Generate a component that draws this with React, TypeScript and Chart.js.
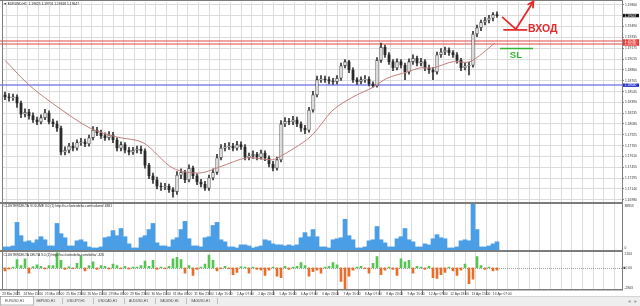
import { useEffect, useRef } from 'react';
import { Chart, registerables } from 'chart.js';

Chart.register(...registerables);

const FONT = '"Liberation Sans", Arial, sans-serif';
const TINY = 3.3;
const GRID = '#dcdcdc';
const FRAME = '#7d7d7d';

// ---------------- data ----------------
const FIRST_OPEN = 1.185;
const CLOSE = [
  1.1847, 1.1846, 1.1847, 1.1838, 1.1822, 1.1825, 1.182, 1.1814, 1.1811, 1.1817,
  1.1824, 1.1811, 1.1808, 1.1802, 1.1767, 1.177, 1.1776, 1.1773, 1.1781, 1.1782,
  1.1779, 1.1788, 1.1799, 1.1795, 1.1791, 1.1788, 1.1792, 1.1785, 1.1773, 1.1778,
  1.177, 1.1767, 1.177, 1.1772, 1.1769, 1.1748, 1.1733, 1.1727, 1.1718, 1.1717,
  1.1718, 1.1713, 1.171, 1.1734, 1.1738, 1.1727, 1.1744, 1.1733, 1.1724, 1.1721,
  1.1715, 1.173, 1.1738, 1.1759, 1.1773, 1.1775, 1.1776, 1.1773, 1.1778, 1.1775,
  1.176, 1.1762, 1.1764, 1.176, 1.1766, 1.1759, 1.175, 1.1744, 1.1756, 1.1808,
  1.1812, 1.1811, 1.1814, 1.1808, 1.1802, 1.1799, 1.1828, 1.185, 1.1872, 1.1873,
  1.1872, 1.187, 1.1869, 1.1874, 1.1892, 1.1898, 1.1886, 1.1872, 1.1869, 1.1872,
  1.1873, 1.1866, 1.1863, 1.19, 1.1919, 1.1908, 1.1898, 1.1889, 1.1898, 1.1893,
  1.1883, 1.1898, 1.1903, 1.1896, 1.1898, 1.1889, 1.1886, 1.1883, 1.1908, 1.1912,
  1.1915, 1.1911, 1.1908, 1.19, 1.1889, 1.1892, 1.1893, 1.1938, 1.1947, 1.1955,
  1.1958, 1.1961, 1.1966, 1.19647,
];
const HIGH = [
  1.1854, 1.1852, 1.1851, 1.185, 1.1841, 1.183, 1.1829, 1.1824, 1.1818, 1.1821,
  1.1829, 1.1827, 1.1815, 1.1812, 1.1805, 1.1775, 1.178, 1.1781, 1.1785, 1.1787,
  1.1786, 1.1792, 1.1804, 1.1803, 1.1799, 1.1795, 1.1797, 1.1796, 1.1788, 1.1782,
  1.1781, 1.1774, 1.1774, 1.1776, 1.1776, 1.1772, 1.1751, 1.1737, 1.1731, 1.1723,
  1.1722, 1.1721, 1.1716, 1.1739, 1.1743, 1.1741, 1.1749, 1.1747, 1.1736, 1.1728,
  1.1725, 1.1734, 1.1743, 1.1764, 1.1778, 1.178, 1.1781, 1.178, 1.1783, 1.1782,
  1.1778, 1.1766, 1.1769, 1.1767, 1.177, 1.1769, 1.1762, 1.1754, 1.176, 1.1813,
  1.1817, 1.1816, 1.1819, 1.1818, 1.1811, 1.1806, 1.1832, 1.1855, 1.1877, 1.1878,
  1.1877, 1.1876, 1.1874, 1.1878, 1.1896, 1.1901, 1.19, 1.1889, 1.1875, 1.1876,
  1.1878, 1.1876, 1.1869, 1.1904, 1.1925, 1.1922, 1.1911, 1.1901, 1.1902, 1.1901,
  1.1896, 1.1902, 1.1908, 1.1906, 1.1903, 1.1901, 1.1893, 1.189, 1.1912, 1.1917,
  1.1919, 1.1918, 1.1914, 1.1911, 1.1903, 1.1896, 1.1897, 1.1942, 1.1951, 1.1958,
  1.1962, 1.1965, 1.1969, 1.197,
];
const LOW = [
  1.1843, 1.1841, 1.1842, 1.1832, 1.1817, 1.1818, 1.1815, 1.181, 1.1807, 1.1808,
  1.1814, 1.1808, 1.1804, 1.1797, 1.1763, 1.1763, 1.1766, 1.1769, 1.177, 1.1777,
  1.1775, 1.1776, 1.1785, 1.1791, 1.1787, 1.1784, 1.1785, 1.1781, 1.1769, 1.1769,
  1.1766, 1.1763, 1.1764, 1.1766, 1.1765, 1.1744, 1.1729, 1.1722, 1.1714, 1.1712,
  1.1713, 1.1709, 1.1702, 1.1706, 1.1729, 1.1723, 1.1724, 1.1729, 1.172, 1.1717,
  1.1712, 1.1712, 1.1727, 1.1735, 1.1756, 1.1769, 1.1771, 1.1769, 1.177, 1.1771,
  1.1756, 1.1756, 1.1758, 1.1756, 1.1757, 1.1755, 1.1746, 1.174, 1.1741, 1.1753,
  1.1804, 1.1807, 1.1807, 1.1804, 1.1797, 1.1794, 1.1796, 1.1825, 1.1847, 1.1868,
  1.1868, 1.1866, 1.1865, 1.1866, 1.1871, 1.1889, 1.1882, 1.1868, 1.1865, 1.1866,
  1.1868, 1.1863, 1.1861, 1.1861, 1.1897, 1.1904, 1.1894, 1.1885, 1.1886, 1.1889,
  1.1872, 1.188, 1.1894, 1.1892, 1.1892, 1.1885, 1.1881, 1.1872, 1.188, 1.1904,
  1.1908, 1.1907, 1.1904, 1.1896, 1.1885, 1.1886, 1.1879, 1.189, 1.1934, 1.1943,
  1.1951, 1.1954, 1.1957, 1.1962,
];
const MA_INDEX = [0, 6.25, 13.75, 21.25, 28, 34.5, 42, 48.75, 53.75, 60.5, 66.5, 68.25, 76.25, 82, 87, 92, 95.5, 100.5, 103.75, 107, 112, 116.25, 122.5];
const MA_VALUE = [1.19, 1.1863, 1.183, 1.1802, 1.1789, 1.1781, 1.1744, 1.1737, 1.1746, 1.1759, 1.1756, 1.1759, 1.1789, 1.1828, 1.1847, 1.1861, 1.1874, 1.1883, 1.1889, 1.1889, 1.1898, 1.1898, 1.1925];
const VOLUME = [
  2590, 2590, 3450, 23300, 12080, 6900, 7770, 6040, 8630, 11220,
  8630, 3450, 3450, 22440, 13810, 10360, 3450, 3450, 7770, 8630,
  6900, 2590, 1730, 1730, 2590, 10360, 11220, 16400, 12080, 18120,
  11220, 5180, 1730, 1730, 10360, 12080, 17260, 22440, 6040, 3450,
  3450, 2590, 8630, 10360, 17260, 24160, 9490, 3450, 3450, 2590,
  10360, 11220, 20710, 23300, 8630, 6900, 2590, 2590, 1730, 4320,
  4320, 3450, 1730, 2590, 3450, 8630, 7770, 5180, 4320, 4320,
  3450, 4320, 3450, 4320, 10360, 14670, 11220, 17260, 11220, 2590,
  2590, 1730, 8630, 9490, 10360, 25890, 12080, 8630, 1730, 1730,
  2590, 7770, 8630, 19850, 8630, 6040, 2590, 2590, 9490, 11220,
  18120, 8630, 6900, 2590, 2590, 5180, 4320, 9490, 12950, 10360,
  9490, 1730, 1730, 2590, 7770, 8630, 7770, 38853, 17260, 2590,
  2590, 3450, 5180, 6900,
];
const DELTA = [
  -400, -150, 100, 1100, 300, 1200, -700, 150, 400, 200,
  -150, 300, 300, 2000, 1000, -200, 150, -100, 600, 1600,
  -400, 300, 800, -200, 300, 200, -150, 500, 300, -100,
  200, -150, 100, 100, 300, 900, 200, 1000, -200, 100,
  -100, 200, 1200, 1400, 1100, -700, 300, -1000, -200, 100,
  500, 1700, 1000, -400, -100, 200, -100, -900, -600, 150,
  100, -700, 100, -200, -300, -1000, -300, 100, -1100, -1300,
  200, -200, 100, 200, 700, 300, -1100, -500, -300, -700,
  100, 200, 700, 400, -1800, -2803, -1100, -300, 100, 200,
  -100, -700, 600, 1500, -900, -300, 100, -200, -1000, 1200,
  800, 1000, -700, 200, 100, -200, 200, -1300, -1400, -900,
  -600, 100, -400, -1000, -300, 500, -2100, -1500, 1500, 300,
  -200, 100, -400, -300,
];
const PRICE_TICKS = [
  1.198, 1.19645, 1.1949, 1.19335, 1.19175, 1.19015, 1.1886, 1.18705, 1.18545, 1.1839,
  1.18235, 1.1808, 1.17925, 1.17765, 1.1761, 1.17455, 1.17295, 1.1714, 1.1698,
];
const TIME_LABELS = [
  '23 Mar 2021', '24 Mar 15:00', '25 Mar 07:00', '25 Mar 23:00', '26 Mar 15:00', '29 Mar 07:00',
  '29 Mar 23:00', '30 Mar 15:00', '31 Mar 07:00', '31 Mar 23:00', '1 Apr 15:00', '2 Apr 07:00',
  '2 Apr 23:00', '5 Apr 15:00', '6 Apr 07:00', '6 Apr 23:00', '7 Apr 15:00', '8 Apr 07:00',
  '8 Apr 23:00', '9 Apr 15:00', '12 Apr 07:00', '12 Apr 23:00', '13 Apr 15:00', '14 Apr 07:00',
];
const RED_LEVELS = [1.1928, 1.19235];
const BLUE_LEVEL = 1.1864;
const LAST_PRICE = 1.19647;
const VOL_MAX = 38853;
const DELTA_MAX = 2104;
const DELTA_MIN = -2803;
const HEADER = '\u25BC EURUSD,H1  1.19625 1.19701 1.19618 1.19647';
const VOL_TITLE = 'CLUSTERDELTA VOLUME 3.0 (1) http://ru.clusterdelta.com/volume/ 4381';
const DELTA_TITLE = 'CLUSTERDELTA DELTA 3.0 (1) http://ru.clusterdelta.com/delta/ -326';
const TABS = ['EURUSD,H1', 'GBPUSD,H1', 'USDJPY,H1', 'USDCAD,H1', 'AUDUSD,H1', 'XAUUSD,H1', 'XAGUSD,H1'];
// hand-drawn annotation (bar index, price)
const ENTRY_PATH = [[124.4, 1.1962], [127.7, 1.1945], [132.1, 1.1985]];
const ENTRY_BAR = [124.75, 130.4, 1.1944];
const ENTRY_LABEL = [130.75, 1.19415];
const ENTRY_TEXT = '\u0412\u0425\u041E\u0414';
const SL_LINE = [123.75, 132, 1.1917];
const SL_LABEL = [126.2, 1.1904];
const SL_TEXT = 'SL';

// ---------------- layout helpers ----------------
const X_MIN = -0.5;
const X_MAX = 154.25;
const FIRST_TICK = -0.96;
const LABEL_STEP = 16 / 3;
const P_MIN = 1.16951;
const P_MAX = 1.19843;

function gridTicks() {
  const t: { value: number }[] = [];
  for (let v = FIRST_TICK; v <= X_MAX; v += LABEL_STEP / 2) t.push({ value: v });
  return t;
}

function xScale(showLabels: boolean): any {
  return {
    type: 'linear',
    min: X_MIN,
    max: X_MAX,
    offset: false,
    afterBuildTicks: (s: any) => { s.ticks = gridTicks(); },
    ticks: showLabels
      ? {
          autoSkip: false,
          maxRotation: 0,
          align: 'start',
          padding: -3,
          labelOffset: 1,
          color: '#333',
          font: { family: FONT, size: TINY },
          callback: (_v: any, i: number) => (i % 2 === 0 && TIME_LABELS[i / 2] ? TIME_LABELS[i / 2] : ''),
        }
      : { display: false },
    grid: showLabels
      ? {
          color: GRID,
          drawTicks: true,
          tickLength: 6,
          tickColor: (c: any) => (c.index % 2 === 0 && c.index / 2 < TIME_LABELS.length ? '#777' : 'rgba(0,0,0,0)'),
        }
      : { color: GRID, drawTicks: false },
    border: { display: false },
    afterFit: (s: any) => {
      s.height = showLabels ? 17 : 0;
      s.paddingLeft = 0;
      s.paddingRight = 0;
    },
  };
}

function hiddenY(min: number, max: number): any {
  return {
    position: 'right',
    min,
    max,
    ticks: { display: false },
    grid: { display: false },
    border: { display: false },
    afterFit: (s: any) => { s.width = 18; s.paddingTop = 0; s.paddingBottom = 0; },
  };
}

function frame(ctx: CanvasRenderingContext2D, h: number) {
  ctx.fillStyle = FRAME;
  ctx.fillRect(2, 0, 1, h);
  ctx.fillRect(622, 0, 1, h);
}

function tinyText(ctx: CanvasRenderingContext2D, text: string, x: number, y: number, color = '#333') {
  ctx.font = `${TINY}px ${FONT}`;
  ctx.fillStyle = color;
  ctx.textAlign = 'left';
  ctx.textBaseline = 'middle';
  ctx.fillText(text, x, y);
}

function axisBox(ctx: CanvasRenderingContext2D, y: number, text: string, bg: string) {
  ctx.fillStyle = bg;
  ctx.fillRect(623, y - 1.7, 16, 3.4);
  tinyText(ctx, text, 624.5, y + 0.1, '#fff');
}

const base: any = {
  animation: false,
  responsive: false,
  devicePixelRatio: 1,
  events: [],
  plugins: { legend: { display: false }, tooltip: { enabled: false } },
};

function mainConfig(): any {
  const opens = CLOSE.map((_, i) => (i === 0 ? FIRST_OPEN : CLOSE[i - 1]));
  const plugin = {
    id: 'mainDeco',
    beforeDatasetsDraw(chart: any) {
      const { ctx, chartArea: a } = chart;
      const y = chart.scales.y;
      ctx.save();
      ctx.lineWidth = 1.1;
      ctx.strokeStyle = '#e24848';
      for (const lv of RED_LEVELS) {
        const py = Math.round(y.getPixelForValue(lv));
        ctx.beginPath(); ctx.moveTo(0, py); ctx.lineTo(a.right, py); ctx.stroke();
      }
      ctx.strokeStyle = '#4848e6';
      const pb = Math.round(y.getPixelForValue(BLUE_LEVEL));
      ctx.beginPath(); ctx.moveTo(0, pb); ctx.lineTo(a.right, pb); ctx.stroke();
      ctx.restore();
    },
    afterDraw(chart: any) {
      const { ctx } = chart;
      const x = chart.scales.x;
      const y = chart.scales.y;
      ctx.save();
      frame(ctx, 203);
      ctx.fillRect(0, 0, 623, 1);
      ctx.fillRect(0, 202, 623, 1);
      tinyText(ctx, HEADER, 3.5, 4, '#222');
      RED_LEVELS.forEach((lv) => axisBox(ctx, y.getPixelForValue(lv), lv.toFixed(5), '#e33b36'));
      axisBox(ctx, y.getPixelForValue(BLUE_LEVEL), BLUE_LEVEL.toFixed(5), '#2230c8');
      axisBox(ctx, y.getPixelForValue(LAST_PRICE), LAST_PRICE.toFixed(5), '#111');

      // entry annotation
      ctx.strokeStyle = '#e32b2b';
      ctx.fillStyle = '#e32b2b';
      ctx.lineWidth = 1.8;
      ctx.lineCap = 'round';
      ctx.lineJoin = 'round';
      const pts = ENTRY_PATH.map(([i, p]) => [x.getPixelForValue(i), y.getPixelForValue(p)]);
      ctx.beginPath();
      ctx.moveTo(pts[0][0], pts[0][1]);
      ctx.lineTo(pts[1][0], pts[1][1]);
      ctx.lineTo(pts[2][0], pts[2][1]);
      ctx.stroke();
      const dx = pts[2][0] - pts[1][0];
      const dy = pts[2][1] - pts[1][1];
      const ang = Math.atan2(dy, dx);
      const L = 6;
      ctx.beginPath();
      ctx.moveTo(pts[2][0] - L * Math.cos(ang - 0.5), pts[2][1] - L * Math.sin(ang - 0.5));
      ctx.lineTo(pts[2][0], pts[2][1]);
      ctx.lineTo(pts[2][0] - L * Math.cos(ang + 0.5), pts[2][1] - L * Math.sin(ang + 0.5));
      ctx.stroke();
      const eb = y.getPixelForValue(ENTRY_BAR[2]);
      ctx.beginPath();
      ctx.moveTo(x.getPixelForValue(ENTRY_BAR[0]), eb);
      ctx.lineTo(x.getPixelForValue(ENTRY_BAR[1]), eb);
      ctx.stroke();
      ctx.font = `bold 10.5px ${FONT}`;
      ctx.textAlign = 'left';
      ctx.textBaseline = 'alphabetic';
      ctx.fillText(ENTRY_TEXT, x.getPixelForValue(ENTRY_LABEL[0]), y.getPixelForValue(ENTRY_LABEL[1]));

      // stop-loss annotation
      ctx.strokeStyle = '#35b535';
      ctx.fillStyle = '#35b535';
      ctx.lineWidth = 1.6;
      ctx.lineCap = 'butt';
      const sy = y.getPixelForValue(SL_LINE[2]);
      ctx.beginPath();
      ctx.moveTo(x.getPixelForValue(SL_LINE[0]), sy);
      ctx.lineTo(x.getPixelForValue(SL_LINE[1]), sy);
      ctx.stroke();
      ctx.font = `bold 9.5px ${FONT}`;
      ctx.fillText(SL_TEXT, x.getPixelForValue(SL_LABEL[0]), y.getPixelForValue(SL_LABEL[1]));
      ctx.restore();
    },
  };
  return {
    type: 'bar',
    data: {
      datasets: [
        {
          type: 'line',
          data: MA_INDEX.map((v, i) => ({ x: v, y: MA_VALUE[i] })),
          borderColor: '#c27d7d',
          borderWidth: 1,
          pointRadius: 0,
          tension: 0.3,
        },
        {
          type: 'bar',
          data: CLOSE.map((c, i) => ({ x: i, y: [opens[i], c] })),
          backgroundColor: CLOSE.map((c, i) => (c >= opens[i] ? '#ffffff' : '#2a2a2a')),
          borderColor: '#2a2a2a',
          borderWidth: 0.8,
          borderSkipped: false,
          barThickness: 2.6,
          grouped: false,
        },
        {
          type: 'bar',
          data: CLOSE.map((_, i) => ({ x: i, y: [LOW[i], HIGH[i]] })),
          backgroundColor: '#333333',
          borderWidth: 0,
          barThickness: 1,
          grouped: false,
        },
      ],
    },
    options: {
      ...base,
      layout: { padding: { left: 3, top: 2, right: 0, bottom: 1 } },
      scales: {
        x: xScale(false),
        y: {
          position: 'right',
          min: P_MIN,
          max: P_MAX,
          afterBuildTicks: (s: any) => { s.ticks = PRICE_TICKS.map((v) => ({ value: v })); },
          ticks: {
            autoSkip: false,
            padding: 1,
            color: '#333',
            font: { family: FONT, size: TINY },
            callback: (v: any) => Number(v).toFixed(5),
          },
          grid: { color: GRID, drawTicks: true, tickLength: 2, tickColor: '#888' },
          border: { display: false },
          afterFit: (s: any) => { s.width = 18; s.paddingTop = 0; s.paddingBottom = 0; },
        },
      },
    },
    plugins: [plugin],
  };
}

function volumeConfig(): any {
  const plugin = {
    id: 'volDeco',
    afterDraw(chart: any) {
      const { ctx } = chart;
      ctx.save();
      frame(ctx, 48);
      ctx.fillRect(0, 0, 623, 1);
      ctx.fillRect(0, 47, 623, 1);
      tinyText(ctx, VOL_TITLE, 3.5, 3.4, '#222');
      tinyText(ctx, String(VOL_MAX), 624.5, 2.6);
      tinyText(ctx, '0', 624.5, 44.8);
      ctx.restore();
    },
  };
  return {
    type: 'bar',
    data: {
      datasets: [
        {
          data: VOLUME.map((v, i) => ({ x: i, y: v })),
          backgroundColor: '#4a9ee6',
          borderWidth: 0,
          barThickness: 4,
          grouped: false,
        },
      ],
    },
    options: {
      ...base,
      layout: { padding: { left: 3, top: 1, right: 0, bottom: 1 } },
      scales: { x: xScale(false), y: hiddenY(0, VOL_MAX) },
    },
    plugins: [plugin],
  };
}

function deltaConfig(): any {
  const plugin = {
    id: 'deltaDeco',
    beforeDatasetsDraw(chart: any) {
      const { ctx, chartArea: a } = chart;
      const zy = Math.round(chart.scales.y.getPixelForValue(0)) + 0.5;
      ctx.save();
      ctx.strokeStyle = '#9a9a9a';
      ctx.lineWidth = 1;
      ctx.setLineDash([1, 1]);
      ctx.beginPath(); ctx.moveTo(a.left, zy); ctx.lineTo(a.right, zy); ctx.stroke();
      ctx.restore();
    },
    afterDraw(chart: any) {
      const { ctx } = chart;
      const zy = chart.scales.y.getPixelForValue(0);
      ctx.save();
      frame(ctx, 39);
      ctx.fillRect(0, 0, 623, 1);
      ctx.fillRect(0, 38, 623, 1.5);
      tinyText(ctx, DELTA_TITLE, 3.5, 3.7, '#222');
      tinyText(ctx, String(DELTA_MAX), 624.5, 2.6);
      ctx.fillStyle = '#333';
      ctx.fillRect(623.5, zy - 1, 1.6, 2);
      tinyText(ctx, '0.00', 625.6, zy);
      tinyText(ctx, String(DELTA_MIN), 624.5, 36.6);

      // symbol tab bar
      ctx.fillStyle = '#eeeeee';
      ctx.fillRect(0, 45, 640, 10);
      ctx.fillStyle = '#c4c4c4';
      ctx.fillRect(0, 45, 640, 0.6);
      ctx.fillStyle = '#ffffff';
      ctx.fillRect(0.5, 45.5, 33, 8.5);
      ctx.strokeStyle = '#9a9a9a';
      ctx.lineWidth = 0.7;
      ctx.strokeRect(0.5, 45.5, 33, 8.5);
      TABS.forEach((t, k) => {
        const tx = k === 0 ? 5 : 5 + k * 31;
        tinyText(ctx, t, tx, 50.3, '#444');
        if (k > 0) {
          ctx.fillStyle = '#a8a8a8';
          ctx.fillRect(31 + k * 31, 47, 0.7, 6);
        }
      });
      ctx.fillStyle = '#999';
      ctx.beginPath(); ctx.moveTo(628, 50.5); ctx.lineTo(630.5, 49); ctx.lineTo(630.5, 52); ctx.closePath(); ctx.fill();
      ctx.beginPath(); ctx.moveTo(637, 50.5); ctx.lineTo(634.5, 49); ctx.lineTo(634.5, 52); ctx.closePath(); ctx.fill();
      ctx.restore();
    },
  };
  return {
    type: 'bar',
    data: {
      datasets: [
        {
          data: DELTA.map((v, i) => ({ x: i, y: v })),
          backgroundColor: DELTA.map((v) => (v >= 0 ? '#55c455' : '#e66e2c')),
          borderWidth: 0,
          barThickness: 2,
          grouped: false,
        },
      ],
    },
    options: {
      ...base,
      layout: { padding: { left: 3, top: 1, right: 0, bottom: 0 } },
      scales: { x: xScale(true), y: hiddenY(DELTA_MIN, DELTA_MAX) },
    },
    plugins: [plugin],
  };
}

export default function App() {
  const mainRef = useRef<HTMLCanvasElement>(null);
  const volRef = useRef<HTMLCanvasElement>(null);
  const deltaRef = useRef<HTMLCanvasElement>(null);

  useEffect(() => {
    const charts = [
      new Chart(mainRef.current as HTMLCanvasElement, mainConfig()),
      new Chart(volRef.current as HTMLCanvasElement, volumeConfig()),
      new Chart(deltaRef.current as HTMLCanvasElement, deltaConfig()),
    ];
    return () => charts.forEach((c) => c.destroy());
  }, []);

  return (
    <div style={{ position: 'fixed', left: 0, top: 0, width: 640, height: 306, background: '#fff', overflow: 'hidden' }}>
      <canvas ref={mainRef} width={640} height={203} style={{ position: 'absolute', left: 0, top: 0, width: 640, height: 203 }} />
      <canvas ref={volRef} width={640} height={48} style={{ position: 'absolute', left: 0, top: 203, width: 640, height: 48 }} />
      <canvas ref={deltaRef} width={640} height={55} style={{ position: 'absolute', left: 0, top: 251, width: 640, height: 55 }} />
    </div>
  );
}
